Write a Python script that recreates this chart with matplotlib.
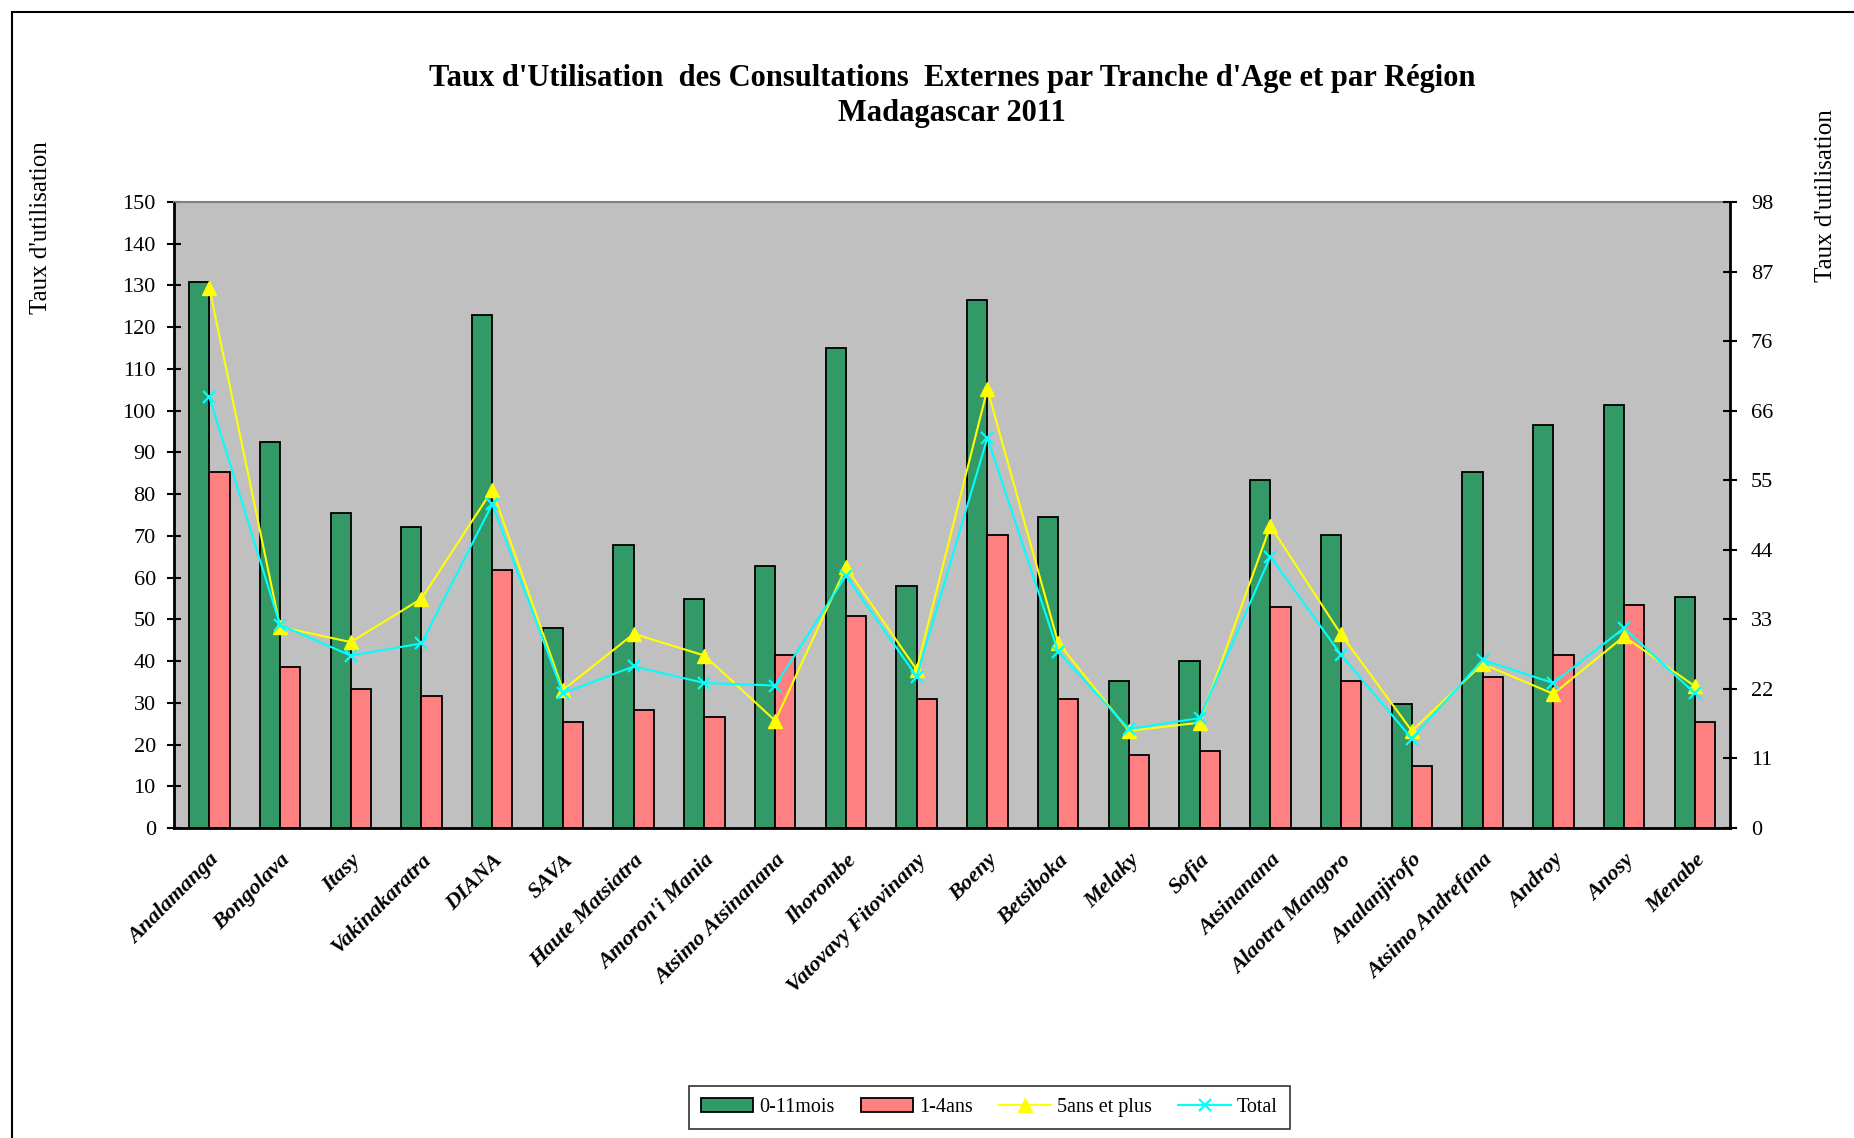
import matplotlib
matplotlib.use("Agg")
import matplotlib.pyplot as plt
import numpy as np
from matplotlib.patches import Rectangle

plt.rcParams["font.family"] = ["Liberation Serif", "DejaVu Serif"]

regions = [
    "Analamanga", "Bongolava", "Itasy", "Vakinakaratra", "DIANA", "SAVA",
    "Haute Matsiatra", "Amoron'i Mania", "Atsimo Atsinanana", "Ihorombe",
    "Vatovavy Fitovinany", "Boeny", "Betsiboka", "Melaky", "Sofia",
    "Atsinanana", "Alaotra Mangoro", "Analanjirofo", "Atsimo Andrefana",
    "Androy", "Anosy", "Menabe",
]
# bars, left axis
mois_0_11 = [130.8, 92.5, 75.4, 72.2, 123.0, 47.9, 67.8, 54.8, 62.9, 114.9, 58.1,
             126.5, 74.5, 35.2, 40.0, 83.4, 70.2, 29.6, 85.4, 96.5, 101.4, 55.3]
ans_1_4 = [85.3, 38.6, 33.4, 31.6, 61.9, 25.5, 28.3, 26.5, 41.4, 50.7, 31.0,
           70.2, 31.0, 17.6, 18.4, 53.0, 35.2, 14.8, 36.2, 41.4, 53.4, 25.5]
# lines, right axis
ans_5_plus = [84.6, 31.5, 29.1, 35.9, 52.9, 21.6, 30.4, 27.0, 16.8, 40.8, 24.8,
              68.7, 29.0, 15.2, 16.5, 47.3, 30.3, 15.2, 25.7, 21.0, 30.0, 22.2]
total = [67.5, 31.8, 27.0, 28.9, 50.7, 21.1, 25.3, 22.7, 22.3, 39.5, 23.7,
         61.1, 27.6, 15.5, 17.2, 42.5, 27.1, 14.0, 26.3, 22.7, 31.3, 21.1]
right_ticks = ["0", "11", "22", "33", "44", "55", "66", "76", "87", "98"]

fig = plt.figure(figsize=(18.54, 11.38), dpi=100)
ax = fig.add_axes([0.0938, 0.2724, 0.8394, 0.5501])
ax.set_facecolor("#C0C0C0")

x = np.arange(len(regions))
w = 0.286
b1 = ax.bar(x - w / 2, mois_0_11, w, color="#339966", edgecolor="black", linewidth=1.3, label="0-11mois")
b2 = ax.bar(x + w / 2, ans_1_4, w, color="#FF8080", edgecolor="black", linewidth=1.3, label="1-4ans")
ax.set_xlim(-0.5, len(regions) - 0.5)
ax.set_ylim(0, 150)
ax.set_yticks(np.arange(0, 151, 10))
ax.tick_params(axis="y", direction="inout", length=10, width=1.5, labelsize=16, pad=8)
ax.set_xticks(x)
ax.set_xticklabels(regions, rotation=45, ha="right", va="top", rotation_mode="anchor",
                   fontsize=16, fontweight="bold", fontstyle="italic")
ax.tick_params(axis="x", length=0, pad=16)
for s in ["left", "bottom"]:
    ax.spines[s].set_linewidth(2)
ax.spines["top"].set_color("#808080")
ax.spines["top"].set_linewidth(1.5)

ax2 = ax.twinx()
ax2.set_ylim(0, 98)
ax2.set_yticks(np.linspace(0, 98, 10))
ax2.set_yticklabels(right_ticks)
ax2.tick_params(axis="y", direction="inout", length=10, width=1.5, labelsize=16, pad=10)
ax2.spines["right"].set_linewidth(2)
ax2.spines["top"].set_visible(False)
l1, = ax2.plot(x, ans_5_plus, color="#FFFF00", marker="^", markersize=10, linewidth=1.5, label="5ans et plus")
l2, = ax2.plot(x, total, color="#00FFFF", marker="x", markersize=9, markeredgewidth=1.6, linewidth=1.5, label="Total")

fig.text(0.5135, 0.931, "Taux d'Utilisation  des Consultations  Externes par Tranche d'Age et par Région",
         ha="center", va="center", fontsize=22, fontweight="bold")
fig.text(0.5135, 0.900, "Madagascar 2011", ha="center", va="center", fontsize=22, fontweight="bold")
fig.text(0.022, 0.80, "Taux d'utilisation", rotation=90, ha="center", va="center", fontsize=18)
fig.text(0.985, 0.828, "Taux d'utilisation", rotation=90, ha="center", va="center", fontsize=18)

leg = fig.legend([b1, b2, l1, l2], ["0-11mois", "1-4ans", "5ans et plus", "Total"],
                 loc="center", bbox_to_anchor=(0.5335, 0.0265), ncol=4, fontsize=14.5,
                 frameon=True, fancybox=False, edgecolor="black", handlelength=2.6,
                 handletextpad=0.3, columnspacing=1.3, borderpad=0.6)
leg.get_frame().set_linewidth(1.2)

# outer chart frame (cut off at right and bottom)
fig.patches.append(Rectangle((12 / 1854, -0.2), 1.2, 1.2 - 12 / 1138,
                             transform=fig.transFigure, fill=False, edgecolor="black",
                             linewidth=1.5, zorder=-1))

fig.savefig("out.png", dpi=100)
